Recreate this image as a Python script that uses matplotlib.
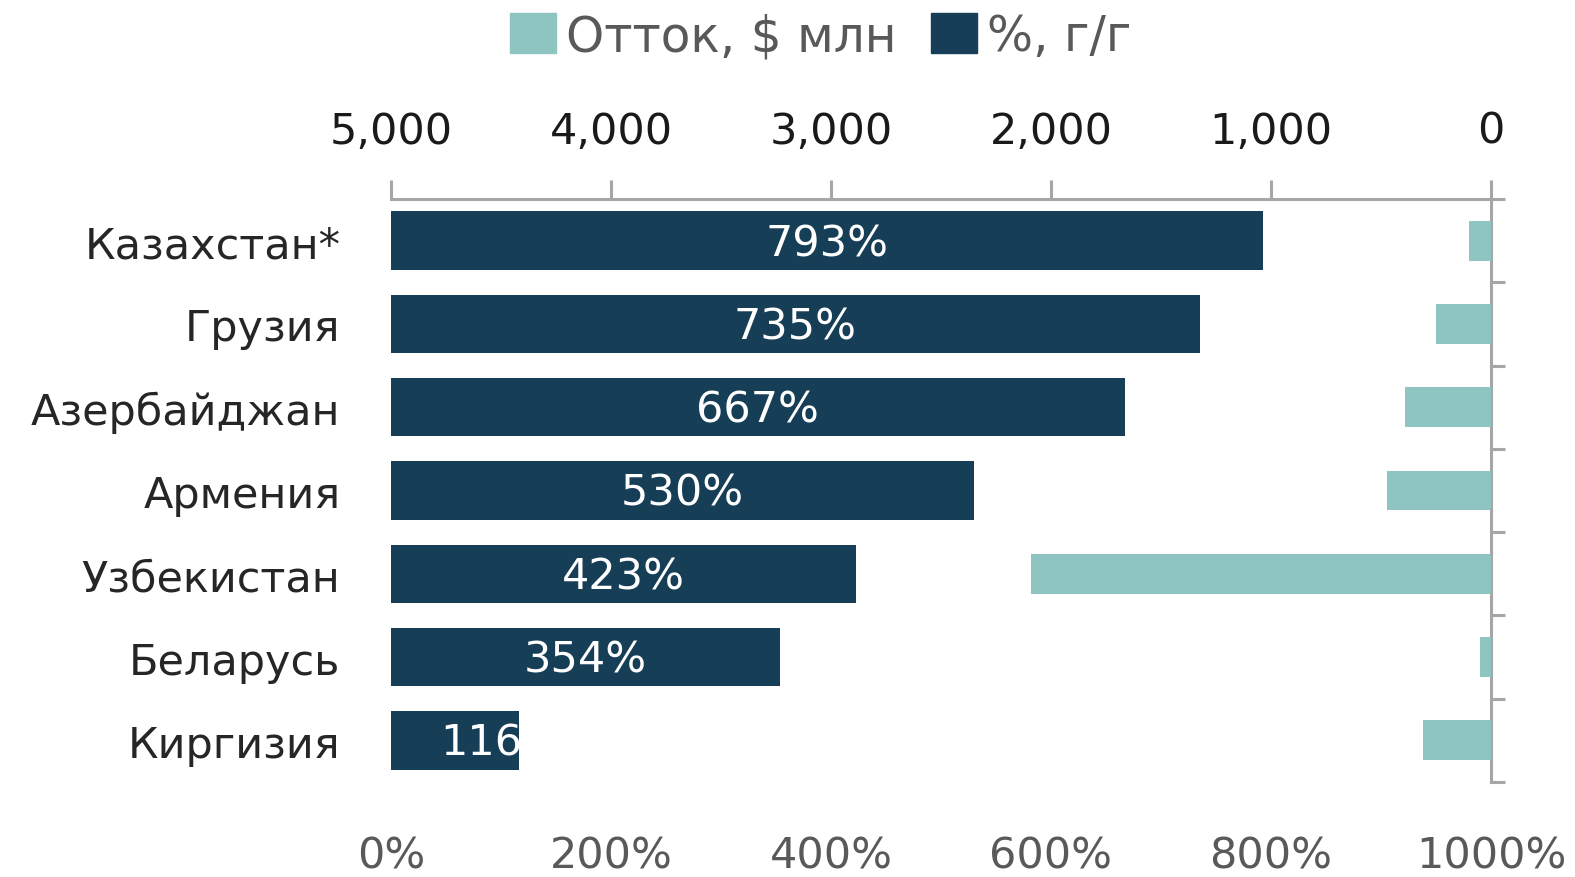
import matplotlib.pyplot as plt
from matplotlib.ticker import FuncFormatter, MultipleLocator

countries = ["Казахстан*", "Грузия", "Азербайджан", "Армения",
             "Узбекистан", "Беларусь", "Киргизия"]
outflow_mln = [100, 250, 390, 475, 2090, 50, 310]
growth_pct = [793, 735, 667, 530, 423, 354, 116]

DARK = "#173E57"
TEAL = "#8FC5C0"
AXIS_GRAY = "#A6A6A6"
TEXT_GRAY = "#595959"
FS = 31

plt.rcParams["font.family"] = ["DejaVu Sans"]

fig = plt.figure(figsize=(15.75, 8.78), dpi=100)
ax = fig.add_axes([391 / 1575, 1 - 783 / 878, 1100 / 1575, 583 / 878])
ypos = list(range(len(countries)))

# % y/y bars, bottom axis
bars = ax.barh(ypos, growth_pct, height=0.7, color=DARK, zorder=2)
ax.set_xlim(0, 1000)
ax.set_ylim(len(countries) - 0.5, -0.5)

# outflow bars, top axis (reversed)
ax2 = ax.twiny()
ax2.barh(ypos, outflow_mln, height=0.48, color=TEAL, zorder=2)
ax2.set_xlim(5000, 0)

ax.xaxis.set_major_locator(MultipleLocator(200))
ax.xaxis.set_major_formatter(FuncFormatter(lambda v, p: f"{v:.0f}%"))
ax.tick_params(axis="x", which="both", bottom=False, top=False,
               labelsize=FS, labelcolor=TEXT_GRAY, pad=34)

ax.set_yticks(ypos)
ax.set_yticklabels(countries)
ax.set_yticks([y - 0.5 for y in range(len(countries) + 1)], minor=True)
ax.tick_params(axis="y", which="major", left=False, right=False,
               labelsize=FS, labelcolor="#262626", pad=33)
ax.tick_params(axis="y", which="minor", left=False, right=True,
               length=10, width=2.2, color=AXIS_GRAY)

for s in ["left", "bottom", "top"]:
    ax.spines[s].set_visible(False)
ax.spines["right"].set_color(AXIS_GRAY)
ax.spines["right"].set_linewidth(2.2)

for bar, v in zip(bars, growth_pct):
    yc = bar.get_y() + bar.get_height() / 2 + 0.03
    if v > 200:
        ax.text(v / 2, yc, f"{v}%", ha="center", va="center",
                color="white", fontsize=FS, zorder=3)
    else:
        # label too long for the bar: Excel cuts it at the bar end
        t = ax.text(45, yc, f"{v}%", ha="left", va="center",
                    color="white", fontsize=FS, zorder=3)
        t.set_clip_path(bar)

ax2.xaxis.set_major_locator(MultipleLocator(1000))
ax2.xaxis.set_major_formatter(FuncFormatter(lambda v, p: f"{v:,.0f}"))
ax2.tick_params(axis="x", which="both", bottom=False)
ax2.tick_params(axis="x", which="major", top=True, length=14, width=2.2,
                color=AXIS_GRAY, labelsize=FS, labelcolor="#1a1a1a", pad=20)
for s in ["left", "bottom", "right"]:
    ax2.spines[s].set_visible(False)
ax2.spines["top"].set_color(AXIS_GRAY)
ax2.spines["top"].set_linewidth(2.2)

handles = [plt.Rectangle((0, 0), 1, 1, color=TEAL),
           plt.Rectangle((0, 0), 1, 1, color=DARK)]
fig.legend(handles, ["Отток, $ млн", "%, г/г"], ncol=2, loc="upper center",
           bbox_to_anchor=(0.521, 1.035), frameon=False, fontsize=35,
           labelcolor=TEXT_GRAY, handlelength=0.95, handleheight=0.9,
           handletextpad=0.2, columnspacing=0.7)

fig.savefig("out.png", dpi=100)
